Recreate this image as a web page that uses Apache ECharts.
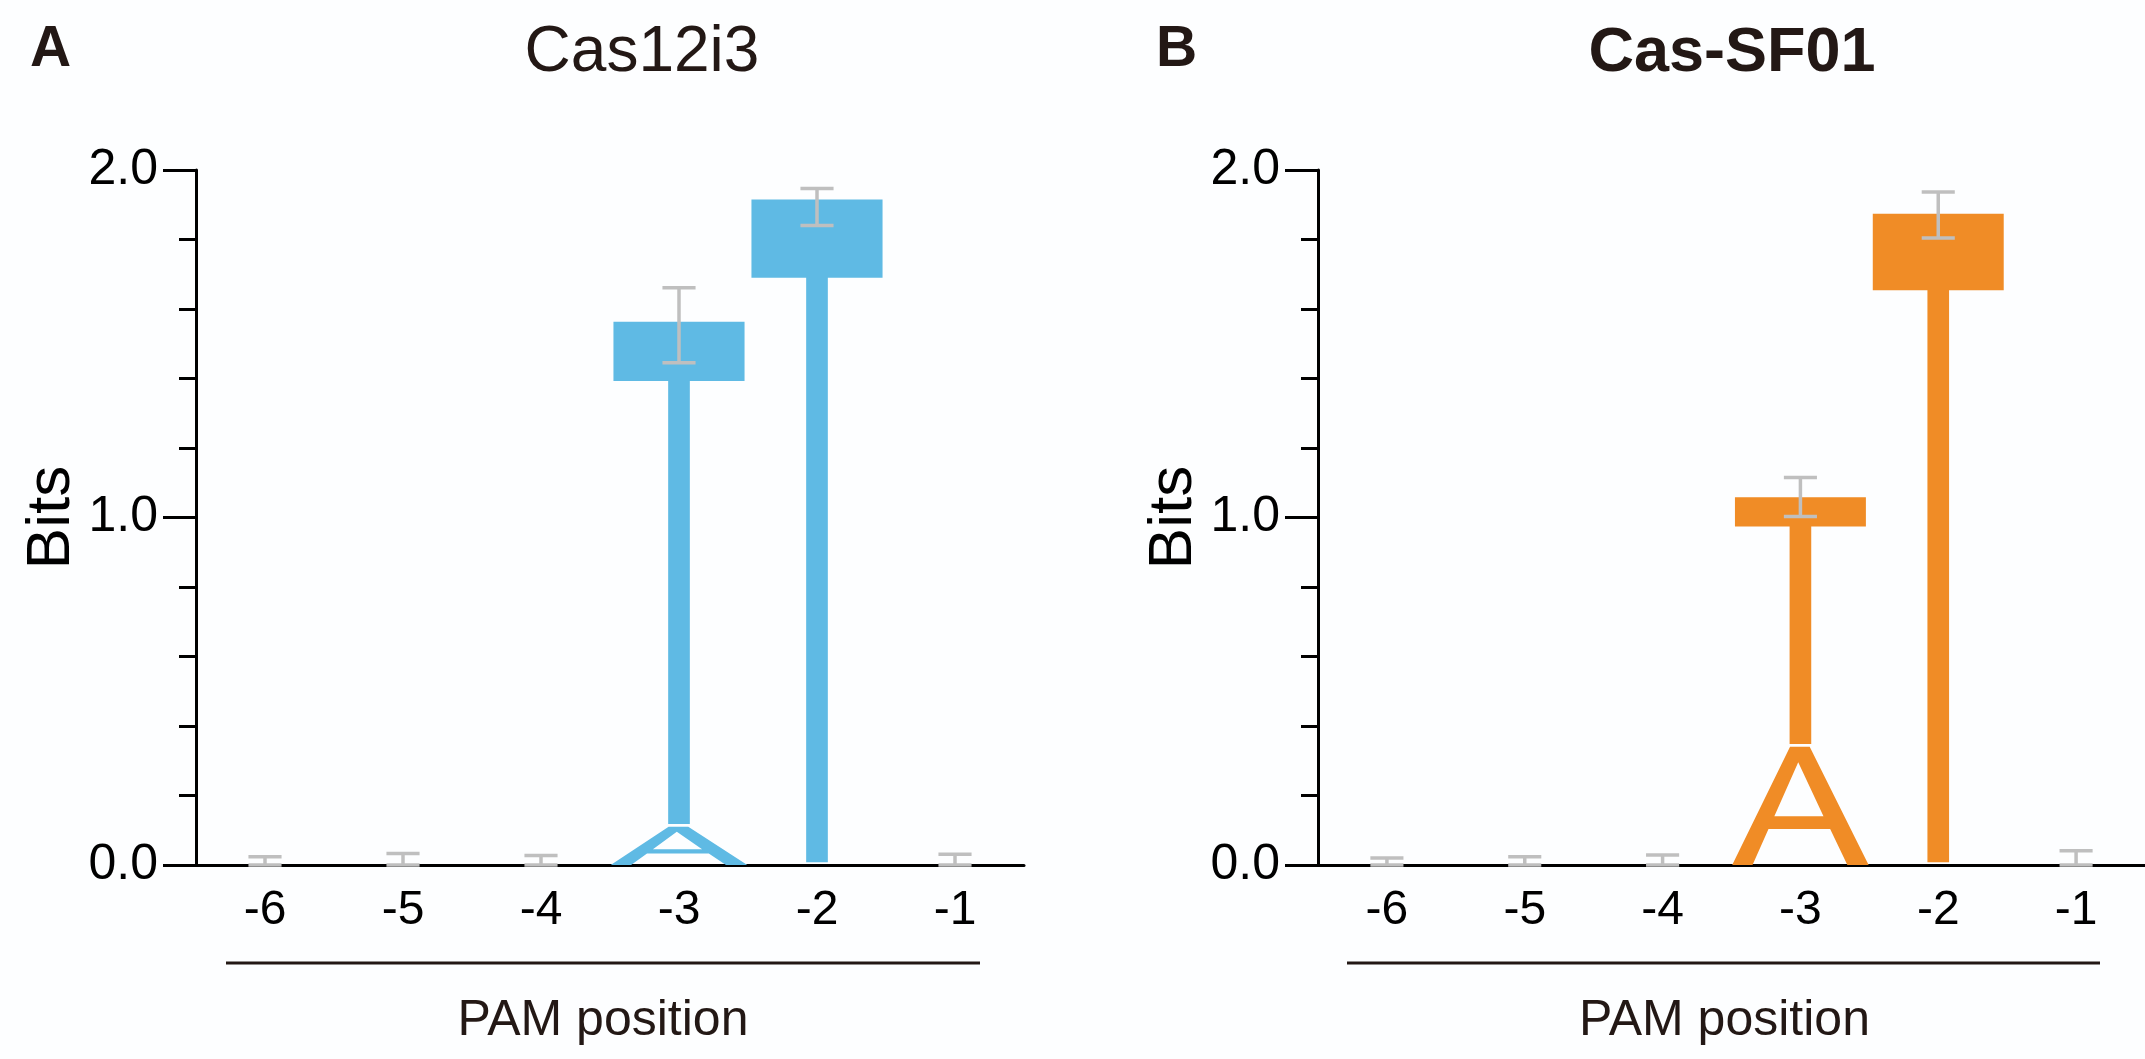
<!DOCTYPE html>
<html>
<head>
<meta charset="utf-8">
<title>PAM logo</title>
<script src="https://cdn.jsdelivr.net/npm/echarts@6/dist/echarts.min.js"></script>
<style>
    html, body { margin: 0; padding: 0; background: #fdfeff; }
    #chart { width: 2145px; height: 1059px; }
</style>
</head>
<body>
<div id="chart"></div>
<script>
// PAM positions on the x axis
var positions = ['-6', '-5', '-4', '-3', '-2', '-1'];
var yTickLabels = ['0.0', '1.0', '2.0'];

// Cas12i3: letter heights (bits) and error bars
var cas12i3A = [0, 0, 0, 0.11, 0, 0];
var cas12i3T = [0, 0, 0, 1.445, 1.907, 0];
var cas12i3ErrLow = [0, 0, 0, 1.445, 1.840, 0];
var cas12i3ErrHigh = [0.024, 0.033, 0.027, 1.661, 1.947, 0.031];

// Cas-SF01
var sf01A = [0, 0, 0, 0.34, 0, 0];
var sf01T = [0, 0, 0, 0.71, 1.866, 0];
var sf01ErrLow = [0, 0, 0, 1.003, 1.804, 0];
var sf01ErrHigh = [0.02, 0.024, 0.029, 1.115, 1.937, 0.041];

var stackGap = 0.008;
var FONT = '"Liberation Sans", Arial, Helvetica, sans-serif';
var INK = '#231815';

// glyph outlines in unit box (u: left->right, v: bottom->top)
var glyphA = [[0, 0], [0.149, 0], [0.266, 0.304], [0.718, 0.304], [0.844, 0], [1, 0], [0.568, 1], [0.424, 1]];
var glyphAHole = [[0.309, 0.412], [0.484, 0.87], [0.669, 0.412]];

var _letterData = function (aBits, tBits) {
    var out = [];
    for (var i = 0; i < positions.length; i++) {
        if (aBits[i] > 0) {
            out.push([i, 0, 0, aBits[i]]);
        }
        if (tBits[i] > 0) {
            var b = aBits[i] + stackGap;
            out.push([i, 1, b, b + tBits[i]]);
        }
    }
    return out;
};

var _errData = function (low, high) {
    var out = [];
    for (var i = 0; i < positions.length; i++) {
        out.push([i, low[i], high[i]]);
    }
    return out;
};

var _renderLetter = function (color) {
    return function (params, api) {
        var idx = api.value(0);
        var code = api.value(1);
        var pB = api.coord([idx, api.value(2)]);
        var pT = api.coord([idx, api.value(3)]);
        var band = api.size([1, 0])[0];
        var cx = pB[0], yB = pB[1], yT = pT[1];
        var h = yB - yT;
        if (code === 0) {
            var w = band * 0.99;
            var pt = function (p) {
                return (cx - w / 2 + p[0] * w).toFixed(2) + ' ' + (yB - p[1] * h).toFixed(2);
            };
            var d = 'M' + glyphA.map(pt).join(' L') + ' Z M' + glyphAHole.map(pt).join(' L') + ' Z';
            return {
                type: 'path',
                shape: { pathData: d },
                style: { fill: color }
            };
        }
        var half = band * 0.475, stem = band * 0.0785;
        var yC = yT + h * 0.118;
        return {
            type: 'polygon',
            shape: {
                points: [
                    [cx - half, yT], [cx + half, yT], [cx + half, yC], [cx + stem, yC],
                    [cx + stem, yB], [cx - stem, yB], [cx - stem, yC], [cx - half, yC]
                ]
            },
            style: { fill: color }
        };
    };
};

var _renderErr = function (params, api) {
    var idx = api.value(0);
    var lo = api.coord([idx, api.value(1)]);
    var hi = api.coord([idx, api.value(2)]);
    var cap = api.size([1, 0])[0] * 0.12;
    var st = { stroke: '#bfbfbf', lineWidth: 3.5 };
    return {
        type: 'group',
        children: [
            { type: 'line', shape: { x1: lo[0], y1: lo[1], x2: hi[0], y2: hi[1] }, style: st },
            { type: 'line', shape: { x1: lo[0] - cap, y1: lo[1], x2: lo[0] + cap, y2: lo[1] }, style: st },
            { type: 'line', shape: { x1: hi[0] - cap, y1: hi[1], x2: hi[0] + cap, y2: hi[1] }, style: st }
        ]
    };
};

var _xAxis = function (gridIndex, shift) {
    return {
        type: 'category',
        gridIndex: gridIndex,
        data: positions,
        boundaryGap: true,
        name: 'PAM position',
        nameLocation: 'middle',
        nameGap: 131,
        nameTextStyle: { fontSize: 50, color: INK, fontFamily: FONT, padding: [0, shift, 0, 0] },
        axisLine: { lineStyle: { color: '#000', width: 3 } },
        axisTick: { alignWithLabel: true, length: 11, lineStyle: { color: '#000', width: 2.5 } },
        axisLabel: { fontSize: 48, color: '#000', fontFamily: FONT, margin: 22 },
        splitLine: { show: false }
    };
};

var _yAxis = function (gridIndex) {
    return {
        type: 'value',
        gridIndex: gridIndex,
        min: 0,
        max: 2,
        interval: 1,
        name: 'Bits',
        nameLocation: 'middle',
        nameGap: 113,
        nameTextStyle: { fontSize: 62, color: '#000', fontFamily: FONT },
        axisLine: { show: true, lineStyle: { color: '#000', width: 3 } },
        axisTick: { show: true, length: 33, lineStyle: { color: '#000', width: 3 } },
        minorTick: { show: true, splitNumber: 5, length: 17, lineStyle: { color: '#000', width: 3 } },
        axisLabel: {
            fontSize: 50, color: '#000', fontFamily: FONT, margin: 38,
            formatter: function (v) { return yTickLabels[Math.round(v)]; }
        },
        splitLine: { show: false },
        minorSplitLine: { show: false }
    };
};

var chart = echarts.init(document.getElementById('chart'));
var option = {
    backgroundColor: '#fdfeff',
    animation: false,
    title: [
        { text: 'A', left: 30, top: 22, padding: 0, textStyle: { fontSize: 57, fontWeight: 'bold', color: INK, fontFamily: FONT } },
        { text: 'Cas12i3', left: 642, textAlign: 'center', top: 21, padding: 0, textStyle: { fontSize: 64, fontWeight: 'normal', color: INK, fontFamily: FONT } },
        { text: 'B', left: 1156, top: 22, padding: 0, textStyle: { fontSize: 57, fontWeight: 'bold', color: INK, fontFamily: FONT } },
        { text: 'Cas-SF01', left: 1732, textAlign: 'center', top: 22, padding: 0, textStyle: { fontSize: 63, fontWeight: 'bold', color: INK, fontFamily: FONT } }
    ],
    grid: [
        { left: 196, top: 170, width: 828, height: 695 },
        { left: 1318, top: 170, width: 828, height: 695 }
    ],
    xAxis: [_xAxis(0, 14), _xAxis(1, 14)],
    yAxis: [_yAxis(0), _yAxis(1)],
    graphic: [
        { type: 'line', shape: { x1: 226, y1: 963, x2: 980, y2: 963 }, style: { stroke: INK, lineWidth: 3 } },
        { type: 'line', shape: { x1: 1347, y1: 963, x2: 2100, y2: 963 }, style: { stroke: INK, lineWidth: 3 } }
    ],
    series: [
        {
            type: 'custom', name: 'Cas12i3', xAxisIndex: 0, yAxisIndex: 0,
            renderItem: _renderLetter('#5fbae4'),
            encode: { x: 0, y: [2, 3] },
            data: _letterData(cas12i3A, cas12i3T)
        },
        {
            type: 'custom', name: 'Cas12i3 err', xAxisIndex: 0, yAxisIndex: 0,
            renderItem: _renderErr,
            encode: { x: 0, y: [1, 2] },
            data: _errData(cas12i3ErrLow, cas12i3ErrHigh)
        },
        {
            type: 'custom', name: 'Cas-SF01', xAxisIndex: 1, yAxisIndex: 1,
            renderItem: _renderLetter('#f08c26'),
            encode: { x: 0, y: [2, 3] },
            data: _letterData(sf01A, sf01T)
        },
        {
            type: 'custom', name: 'Cas-SF01 err', xAxisIndex: 1, yAxisIndex: 1,
            renderItem: _renderErr,
            encode: { x: 0, y: [1, 2] },
            data: _errData(sf01ErrLow, sf01ErrHigh)
        }
    ]
};
chart.setOption(option);
</script>
</body>
</html>
